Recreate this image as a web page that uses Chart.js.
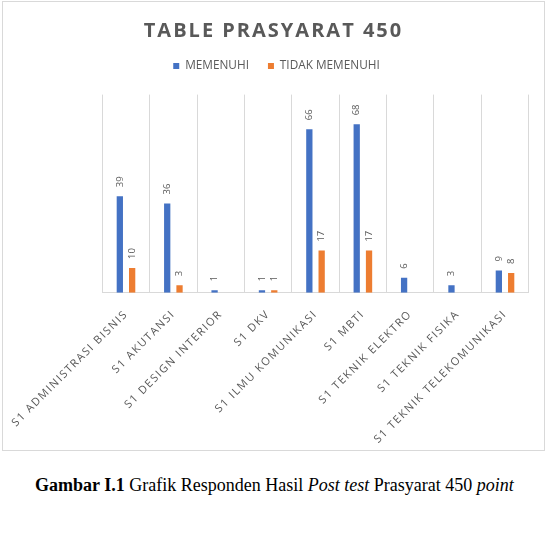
<!DOCTYPE html>
<html>
<head>
<meta charset="utf-8">
<script src="https://cdn.jsdelivr.net/npm/chart.js@4.4.0/dist/chart.umd.min.js"></script>
<style>
  html, body { margin: 0; padding: 0; background: #fff; }
  body { width: 550px; height: 533px; position: relative; overflow: hidden; }
  #box { position: absolute; left: 2px; top: 1px; width: 541px; height: 448px; border: 1px solid #d9d9d9; }
  #chart { display: block; }
  #caption {
    position: absolute; left: 35px; top: 475px;
    font-family: "Liberation Serif", "Times New Roman", serif;
    font-size: 18px; line-height: 20px; color: #000; white-space: nowrap;
  }
</style>
</head>
<body>
<div id="box"><canvas id="chart" width="541" height="448" style="width:541px;height:448px"></canvas></div>
<div id="caption"><b>Gambar I.1</b> Grafik Responden Hasil <i>Post test</i> Prasyarat 450 <i>point</i></div>
<script>
// Data
const categories = [
    'S1 ADMINISTRASI BISNIS',
    'S1 AKUTANSI',
    'S1 DESIGN INTERIOR',
    'S1 DKV',
    'S1 ILMU KOMUNIKASI',
    'S1 MBTI',
    'S1 TEKNIK ELEKTRO',
    'S1 TEKNIK FISIKA',
    'S1 TEKNIK TELEKOMUNIKASI'
];
const memenuhi = [39, 36, 1, 1, 66, 68, 6, 3, 9];
const tidakMemenuhi = [10, 3, null, 1, 17, 17, null, null, 8];
const seriesNames = ['MEMENUHI', 'TIDAK MEMENUHI'];
const chartTitle = 'TABLE PRASYARAT 450';
const yMax = 80;

const textGray = '#595959';
const lineGray = '#d9d9d9';

Chart.defaults.font.family = "'Open Sans', sans-serif";

// Small tweaks Chart.js has no options for: letter spacing, legend gap/offset
const tweaks = {
    id: 'tweaks',
    beforeLayout(chart) {
        const lg = chart.legend;
        if (lg && !lg._tweaked) {
            const fit = lg.fit;
            lg.fit = function () {
                fit.call(this);
                this.height += 12.8;
            };
            const draw = lg.draw;
            lg.draw = function () {
                this.ctx.save();
                this.ctx.translate(3, 0);
                draw.apply(this, arguments);
                this.ctx.restore();
            };
            lg._tweaked = true;
        }
    },
    beforeDraw(chart) {
        const x = chart.scales.x;
        if (x && !x._tweaked) {
            const drawLabels = x.drawLabels;
            x.drawLabels = function (area) {
                this.ctx.save();
                this.ctx.letterSpacing = '1.5px';
                drawLabels.call(this, area);
                this.ctx.restore();
            };
            x._tweaked = true;
        }
        const t = chart.titleBlock;
        if (t && !t._tweaked) {
            const draw = t.draw;
            t.draw = function () {
                this.ctx.save();
                this.ctx.letterSpacing = '2px';
                draw.apply(this, arguments);
                this.ctx.restore();
            };
            t._tweaked = true;
        }
    }
};

// Value labels above bars, rotated like the original
const valueLabels = {
    id: 'valueLabels',
    afterDatasetsDraw(chart) {
        const ctx = chart.ctx;
        ctx.save();
        ctx.font = "9.5px 'Open Sans'";
        ctx.fillStyle = textGray;
        ctx.textAlign = 'left';
        ctx.textBaseline = 'middle';
        chart.data.datasets.forEach((ds, i) => {
            chart.getDatasetMeta(i).data.forEach((bar, j) => {
                const v = ds.data[j];
                if (v == null) return;
                ctx.save();
                ctx.translate(bar.x, bar.y - 9);
                ctx.rotate(-Math.PI / 2);
                ctx.fillText(String(v), 0, 0);
                ctx.restore();
            });
        });
        ctx.restore();
    }
};

const ctx = document.getElementById('chart').getContext('2d');
new Chart(ctx, {
    type: 'bar',
    data: {
        labels: categories,
        datasets: [
            { label: seriesNames[0], data: memenuhi, backgroundColor: '#4472C4', borderWidth: 0 },
            { label: seriesNames[1], data: tidakMemenuhi, backgroundColor: '#ED7D31', borderWidth: 0 }
        ]
    },
    options: {
        responsive: false,
        animation: false,
        categoryPercentage: 0.52,
        barPercentage: 0.51,
        layout: { padding: 0 },
        plugins: {
            title: {
                display: true,
                text: chartTitle,
                color: textGray,
                font: { size: 20, weight: 'bold', lineHeight: 1 },
                padding: { top: 19, bottom: 0 }
            },
            legend: {
                position: 'top',
                labels: {
                    boxWidth: 6,
                    boxHeight: 6,
                    padding: 19,
                    color: textGray,
                    font: { size: 11.8 }
                }
            },
            tooltip: { enabled: false }
        },
        scales: {
            x: {
                grid: { color: lineGray, drawTicks: false, offset: true },
                border: { color: lineGray },
                ticks: {
                    color: textGray,
                    font: { size: 11 },
                    minRotation: 45,
                    maxRotation: 45,
                    autoSkip: false,
                    padding: 15
                },
                afterFit(scale) {
                    scale.height = 157.3;
                    scale.paddingLeft = 99.3;
                    scale.paddingRight = 15.3;
                    scale.paddingTop = 0;
                    scale.paddingBottom = 0;
                }
            },
            y: {
                display: false,
                min: 0,
                max: yMax
            }
        }
    },
    plugins: [tweaks, valueLabels]
});
</script>
</body>
</html>
